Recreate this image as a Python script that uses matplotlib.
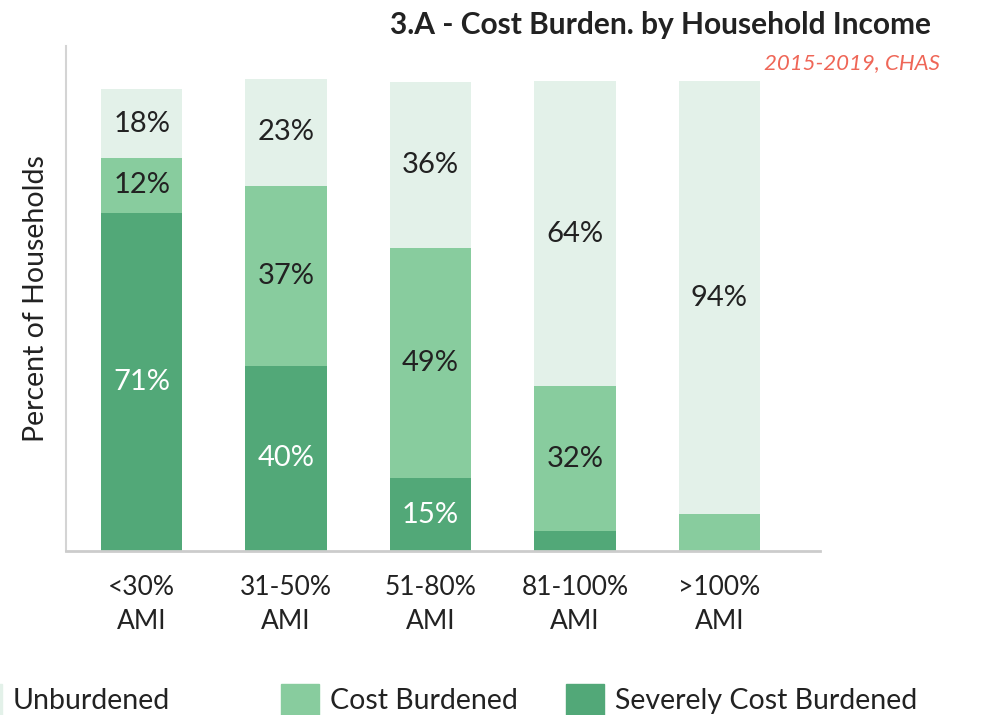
import matplotlib
import numpy as np

matplotlib.use("Agg")
import matplotlib.pyplot as plt  # noqa: E402
from matplotlib.patches import Patch  # noqa: E402

# data (segment heights as drawn, labels as printed)
CATEGORIES = ["<30%\nAMI", "31-50%\nAMI", "51-80%\nAMI", "81-100%\nAMI", ">100%\nAMI"]
SEVERE = [71.9, 39.4, 15.5, 4.2, 0]
BURDENED = [11.7, 38.3, 48.9, 30.8, 7.8]
UNBURDENED = [14.6, 22.6, 35.4, 64.9, 92.1]
SEVERE_LABELS = ["71%", "40%", "15%", "", ""]
BURDENED_LABELS = ["12%", "37%", "49%", "32%", ""]
UNBURDENED_LABELS = ["18%", "23%", "36%", "64%", "94%"]

COLORS = {
    "Unburdened": "#e3f1e9",
    "Cost Burdened": "#88cc9e",
    "Severely Cost Burdened": "#52a878",
}
TEXT = "#222222"
FONT = "Lato"

plt.rcParams["font.family"] = [FONT, "DejaVu Sans"]

fig = plt.figure(figsize=(9.81, 7.15), dpi=100)
ax = fig.add_axes([0.0673, 0.2294, 0.836 - 0.0673, 0.9357 - 0.2294])

x = np.arange(len(CATEGORIES))
w = 0.564
sev = np.array(SEVERE)
bur = np.array(BURDENED)
unb = np.array(UNBURDENED)

b1 = ax.bar(x, sev, w, color=COLORS["Severely Cost Burdened"])
b2 = ax.bar(x, bur, w, bottom=sev, color=COLORS["Cost Burdened"])
b3 = ax.bar(x, unb, w, bottom=sev + bur, color=COLORS["Unburdened"])

lab_kw = dict(label_type="center", fontsize=21)
ax.bar_label(b1, labels=SEVERE_LABELS, color="white", **lab_kw)
ax.bar_label(b2, labels=BURDENED_LABELS, color=TEXT, **lab_kw)
ax.bar_label(b3, labels=UNBURDENED_LABELS, color=TEXT, **lab_kw)

ax.set_xlim(-0.524, 4.698)
ax.set_ylim(0, 107.4)
ax.set_yticks([])
ax.set_xticks(x)
ax.set_xticklabels(CATEGORIES, fontsize=19, color=TEXT, linespacing=1.47)
ax.tick_params(axis="x", length=0, pad=17)
for s in ("top", "right"):
    ax.spines[s].set_visible(False)
ax.spines["left"].set_color("#d4d4d4")
ax.spines["left"].set_linewidth(1.5)
ax.spines["bottom"].set_color("#cccccc")
ax.spines["bottom"].set_linewidth(2)
ax.set_ylabel("Percent of Households", fontsize=20.5, color=TEXT, labelpad=12)

fig.text(0.949, 0.952, "3.A - Cost Burden. by Household Income",
         ha="right", va="baseline", fontsize=21.5, fontweight="bold", color=TEXT)
fig.text(0.958, 0.903, "2015-2019, CHAS", ha="right", va="baseline",
         fontsize=16, fontstyle="italic", color="#ef6657")

# three single-entry legends so the gaps match the reference
leg_x = {"Unburdened": -0.037, "Cost Burdened": 0.2865, "Severely Cost Burdened": 0.577}
for name, lx in leg_x.items():
    lg = fig.legend(handles=[Patch(color=COLORS[name], label=name)],
                    loc="lower left", bbox_to_anchor=(lx, 0.0), frameon=False,
                    fontsize=20.5, handlelength=1.33, handleheight=1.3,
                    handletextpad=0.4, borderpad=0, borderaxespad=0)
    for t in lg.get_texts():
        t.set_color(TEXT)

fig.savefig("out.png", dpi=100)
